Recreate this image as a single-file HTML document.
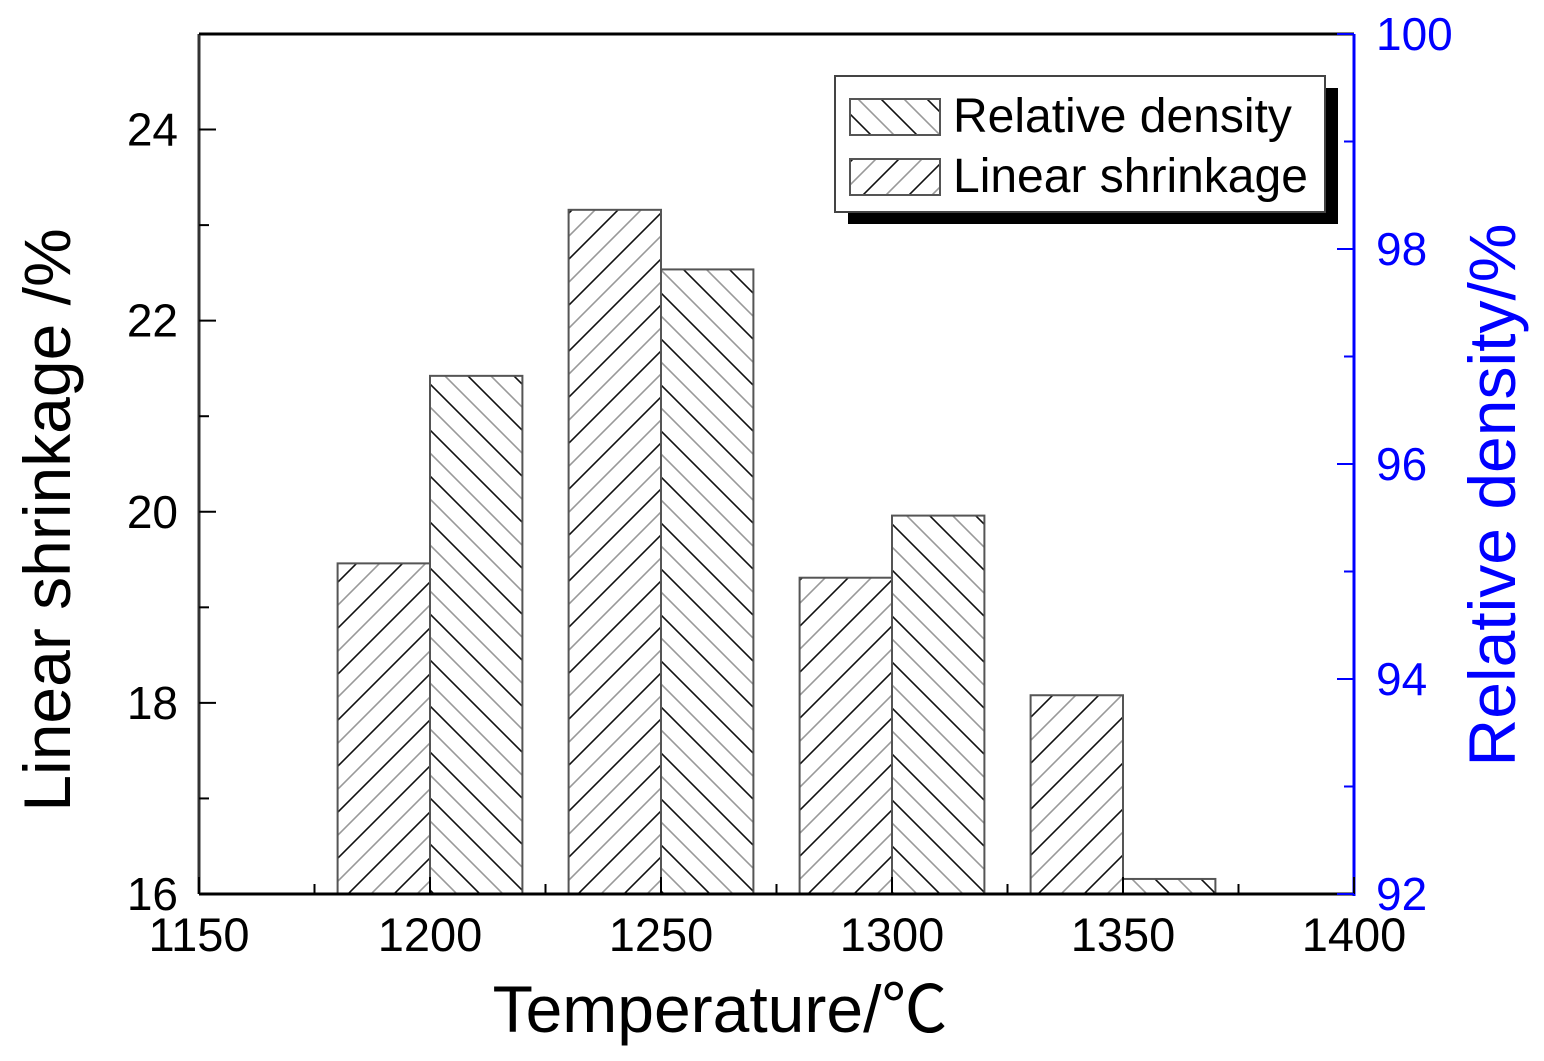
<!DOCTYPE html>
<html><head><meta charset="utf-8"><style>
html,body{margin:0;padding:0;background:#fff}
svg{display:block;font-family:"Liberation Sans","Noto Sans CJK SC",sans-serif}
</style></head><body>
<svg id="chart" width="1544" height="1061" viewBox="0 0 1544 1061">
<defs>
<pattern id="hatchFwd" patternUnits="userSpaceOnUse" width="46" height="46">
<path d="M-5,5 L5,-5 M0,46 L46,0 M41,51 L51,41" stroke="#111" stroke-width="1.6"/>
<path d="M-5,28 L28,-5 M18,51 L51,18" stroke="#999" stroke-width="1.6"/>
</pattern>
<pattern id="hatchBack" patternUnits="userSpaceOnUse" width="46" height="46">
<path d="M-5,-5 L51,51 M-5,41 L5,51 M41,-5 L51,5" stroke="#111" stroke-width="1.6"/>
<path d="M-5,18 L28,51 M18,-5 L51,28" stroke="#999" stroke-width="1.6"/>
</pattern>
</defs>
<g id="bars"></g>
<g id="axes"></g>
<g>
<rect x="848" y="88" width="490" height="136" fill="#000"/>
<rect x="835" y="76" width="490" height="136" fill="#fff" stroke="#444" stroke-width="2"/>
<rect x="850" y="99" width="90" height="36" fill="url(#hatchBack)" stroke="#555" stroke-width="2"/>
<text x="953" y="132" font-size="48">Relative density</text>
<rect x="850" y="159" width="90" height="36" fill="url(#hatchFwd)" stroke="#555" stroke-width="2"/>
<text x="953" y="192" font-size="48">Linear shrinkage</text>
</g>
<text x="0" y="0" font-size="66" transform="translate(70,520) rotate(-90)" text-anchor="middle">Linear shrinkage /%</text>
<text x="0" y="0" font-size="66" fill="#0000ff" transform="translate(1515,495) rotate(-90)" text-anchor="middle">Relative density/%</text>
<text x="720" y="1032" font-size="66" text-anchor="middle">Temperature/℃</text>
</svg>
<script>
const temps = [1200, 1250, 1300, 1350];
const shrinkage = [19.46, 23.16, 19.31, 18.08];
const density = [96.82, 97.81, 95.52, 92.14];
const xTicks = [1150, 1200, 1250, 1300, 1350, 1400];
const yLeftTicks = [16, 18, 20, 22, 24];
const yRightTicks = [92, 94, 96, 98, 100];

const L=199,R=1354,T=34,B=894;
const xs=v=>L+(v-1150)/250*(R-L);
const yl=v=>B-(v-16)/9*(B-T);
const yr=v=>B-(v-92)/8*(B-T);
const NS='http://www.w3.org/2000/svg';
function mk(tag,attrs,parent){const e=document.createElementNS(NS,tag);for(const k in attrs)e.setAttribute(k,attrs[k]);parent.appendChild(e);return e;}
const bars=document.getElementById('bars'), axes=document.getElementById('axes');
const bw=xs(1170)-xs(1150);
temps.forEach((t,i)=>{
  const y1=yl(shrinkage[i]);
  const b1=mk('rect',{x:xs(t)-bw,y:y1,width:bw,height:B-y1,fill:'url(#hatchFwd)',stroke:'#555','stroke-width':2},bars);
  
  
  const y2=yr(density[i]);
  const b2=mk('rect',{x:xs(t),y:y2,width:bw,height:B-y2,fill:'url(#hatchBack)',stroke:'#555','stroke-width':2},bars);
  
  
});
mk('line',{x1:L,y1:T,x2:R,y2:T,stroke:'#000','stroke-width':3},axes);
mk('line',{x1:L,y1:B,x2:R,y2:B,stroke:'#000','stroke-width':3},axes);
mk('line',{x1:L,y1:T,x2:L,y2:B,stroke:'#333','stroke-width':3},axes);
mk('line',{x1:R,y1:T,x2:R,y2:B+2,stroke:'#0000ff','stroke-width':3},axes);
xTicks.forEach((v,i)=>{
  const x=xs(v);
  mk('line',{x1:x,y1:B,x2:x,y2:B-17,stroke:'#000','stroke-width':2},axes);
  if(i<xTicks.length-1){const m=xs(v+25);mk('line',{x1:m,y1:B,x2:m,y2:B-10,stroke:'#000','stroke-width':2},axes);}
  const tx=mk('text',{x:x,y:951,'font-size':47,'text-anchor':'middle'},axes);
  tx.textContent=v;
  
  
});
yLeftTicks.forEach(v=>{
  const y=yl(v);
  mk('line',{x1:L,y1:y,x2:L+17,y2:y,stroke:'#000','stroke-width':2},axes);
  const m=yl(v+1);mk('line',{x1:L,y1:m,x2:L+10,y2:m,stroke:'#000','stroke-width':2},axes);
  const tx=mk('text',{x:178,y:y+16,'font-size':46,'text-anchor':'end'},axes);
  tx.textContent=v;
  
  
});
yRightTicks.forEach((v,i)=>{
  const y=yr(v);
  mk('line',{x1:R,y1:y,x2:R-17,y2:y,stroke:'#0000ff','stroke-width':2},axes);
  if(i<yRightTicks.length-1){const m=yr(v+1);mk('line',{x1:R,y1:m,x2:R-10,y2:m,stroke:'#0000ff','stroke-width':2},axes);}
  const tx=mk('text',{x:1376,y:y+16,'font-size':46,fill:'#0000ff'},axes);
  tx.textContent=v;
  
  
});
</script>
</body></html>
